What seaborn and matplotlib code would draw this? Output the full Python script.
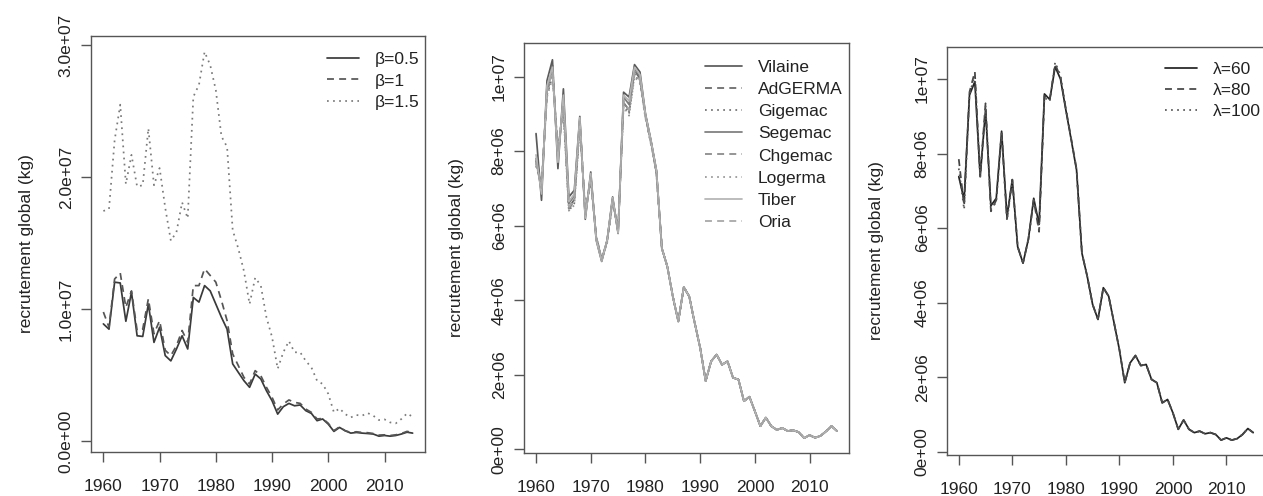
import matplotlib
matplotlib.use("Agg")
import matplotlib.pyplot as plt
import seaborn as sns
import numpy as np
import pandas as pd

# ---------------- data (values in millions of kg) ----------------
years = list(range(1960, 2016))
xticks = [1960, 1970, 1980, 1990, 2000, 2010]

# Panel 1 : beta
beta_labels = ["\u03b2=0.5", "\u03b2=1", "\u03b2=1.5"]
beta_05 = [8.9, 8.5, 12.06, 12.0, 9.1, 11.3, 8.0, 7.95, 10.4, 7.5,
           8.65, 6.5, 6.1, 7.0, 8.0, 7.0, 10.9, 10.55, 11.8, 11.4,
           10.4, 9.4, 8.5, 5.87, 5.23, 4.6, 4.1, 5.1, 4.73, 3.84,
           3.08, 2.07, 2.63, 2.88, 2.7, 2.76, 2.33, 2.12, 1.57, 1.7,
           1.31, 0.76, 1.06, 0.81, 0.63, 0.68, 0.63, 0.6, 0.56, 0.4,
           0.45, 0.4, 0.45, 0.56, 0.7, 0.63]
beta_1 = [9.8, 8.65, 12.3, 12.75, 10.15, 11.4, 8.4, 8.5, 10.8, 8.15,
          9.15, 6.9, 6.5, 7.25, 8.4, 7.5, 11.8, 11.8, 13.07, 12.57,
          12.06, 10.67, 9.15, 6.62, 5.74, 4.85, 4.35, 5.36, 4.98, 4.1,
          3.34, 2.38, 2.83, 3.14, 2.96, 2.88, 2.45, 2.2, 1.7, 1.74,
          1.37, 0.81, 1.11, 0.81, 0.68, 0.73, 0.68, 0.66, 0.6, 0.48,
          0.5, 0.45, 0.5, 0.6, 0.76, 0.68]
beta_15 = [17.45, 17.6, 22.8, 25.5, 19.5, 21.7, 19.3, 19.4, 23.7, 19.4,
           20.7, 17.7, 15.2, 15.85, 18.1, 16.9, 26.1, 27.0, 29.5, 28.5,
           26.6, 23.1, 22.3, 16.0, 14.6, 12.9, 10.4, 12.4, 11.8, 9.4,
           7.9, 5.5, 6.75, 7.6, 6.75, 6.75, 6.1, 5.6, 4.6, 4.35,
           3.6, 2.2, 2.5, 2.07, 1.82, 2.0, 1.95, 2.15, 1.95, 1.62,
           1.67, 1.44, 1.37, 1.7, 2.12, 1.87]

# Panel 2 : sites (1960-1982 differ, 1983-2015 read as one common curve)
site_labels = ["Vilaine", "AdGERMA", "Gigemac", "Segemac", "Chgemac", "Logerma", "Tiber", "Oria"]
vilaine_head = [8.47, 6.68, 9.89, 10.45, 7.53, 9.67, 6.77, 6.95, 8.93, 6.17, 7.44, 5.61, 5.04,
                5.61, 6.77, 5.79, 9.58, 9.45, 10.32, 10.12, 9.0, 8.29, 7.49]
adgerma_head = [7.75, 7.0, 9.6, 10.3, 7.9, 9.3, 6.5, 6.7, 8.8, 6.3, 7.3, 5.7, 5.1,
                5.6, 6.7, 5.85, 9.3, 9.1, 10.15, 9.95, 8.95, 8.25, 7.45]
gigemac_head = [7.6, 7.1, 9.5, 10.0, 8.1, 9.1, 6.4, 6.6, 8.7, 6.4, 7.2, 5.7, 5.1,
                5.55, 6.65, 5.9, 9.25, 9.0, 10.05, 9.85, 8.9, 8.2, 7.4]
segemac_head = [7.8, 6.9, 9.7, 10.2, 7.8, 9.4, 6.6, 6.8, 8.85, 6.25, 7.35, 5.65, 5.07,
                5.6, 6.72, 5.82, 9.45, 9.25, 10.2, 10.0, 8.97, 8.27, 7.47]
chgemac_head = [7.7, 7.05, 9.55, 10.1, 8.0, 9.2, 6.45, 6.65, 8.75, 6.35, 7.25, 5.7, 5.1,
                5.58, 6.7, 5.88, 9.3, 9.05, 10.1, 9.9, 8.92, 8.22, 7.42]
logerma_head = [7.65, 7.1, 9.45, 9.95, 8.15, 9.05, 6.4, 6.55, 8.65, 6.45, 7.2, 5.72, 5.12,
                5.55, 6.62, 5.92, 9.2, 8.95, 10.0, 9.8, 8.88, 8.18, 7.38]
tiber_head = [7.9, 6.85, 9.75, 10.25, 7.7, 9.5, 6.65, 6.85, 8.9, 6.2, 7.4, 5.62, 5.05,
              5.62, 6.75, 5.8, 9.5, 9.35, 10.25, 10.05, 8.98, 8.28, 7.48]
oria_head = [7.7, 7.0, 9.6, 10.15, 7.95, 9.25, 6.5, 6.7, 8.8, 6.3, 7.3, 5.68, 5.08,
             5.6, 6.7, 5.85, 9.35, 9.1, 10.1, 9.9, 8.93, 8.23, 7.43]
sites_tail = [5.39, 4.9, 4.1, 3.43, 4.35, 4.1, 3.39, 2.72, 1.83, 2.36, 2.54, 2.27, 2.36,
              1.92, 1.87, 1.29, 1.41, 1.02, 0.62, 0.85, 0.62, 0.52, 0.57, 0.49, 0.51,
              0.46, 0.30, 0.38, 0.31, 0.36, 0.48, 0.62, 0.49]

# Panel 3 : lambda
lambda_labels = ["\u03bb=60", "\u03bb=80", "\u03bb=100"]
lam60_head = [7.38, 6.76, 9.57, 9.93, 7.38, 9.17, 6.6, 6.8, 8.6, 6.3, 7.3, 5.5, 5.06,
              5.7, 6.8, 6.1, 9.6, 9.45, 10.33, 10.0, 9.17, 8.37, 7.56]
lam80_head = [7.85, 6.6, 9.65, 10.2, 7.4, 9.35, 6.45, 6.75, 8.55, 6.25, 7.3, 5.5, 5.06,
              5.7, 6.75, 5.9, 9.55, 9.45, 10.4, 10.05, 9.2, 8.4, 7.58]
lam100_head = [7.6, 6.5, 9.6, 10.1, 7.35, 9.3, 6.5, 6.7, 8.55, 6.2, 7.25, 5.5, 5.06,
               5.7, 6.75, 5.95, 9.5, 9.4, 10.45, 10.1, 9.2, 8.4, 7.58]
lambda_tail = [5.33, 4.7, 3.95, 3.55, 4.4, 4.17, 3.46, 2.74, 1.85, 2.38, 2.58, 2.31, 2.34,
               1.94, 1.85, 1.31, 1.4, 1.04, 0.6, 0.85, 0.6, 0.51, 0.55, 0.48, 0.51,
               0.46, 0.31, 0.37, 0.31, 0.35, 0.46, 0.62, 0.51]

p1_yticks = [0, 1e7, 2e7, 3e7]
p1_yticklabels = ["0.0e+00", "1.0e+07", "2.0e+07", "3.0e+07"]
p23_yticks = [0, 2e6, 4e6, 6e6, 8e6, 1e7]
p23_yticklabels = ["0e+00", "2e+06", "4e+06", "6e+06", "8e+06", "1e+07"]
ylabel = "recrutement global (kg)"

# ---------------- styling ----------------
sns.set_theme(style="white")
plt.rcParams["font.family"] = ["Liberation Sans", "DejaVu Sans"]
plt.rcParams["axes.unicode_minus"] = False

W, H = 1263, 496
fig = plt.figure(figsize=(W / 100, H / 100), dpi=100)
fig.patch.set_facecolor("white")

SOLID = "-"
DASH = (0, (4, 3))
DOT = (0, (1, 2.5))
TXT = "#222222"
SPINE = "#555555"
FS = 12.5


def add_ax(l, r, t, b):
    return fig.add_axes([l / W, 1 - b / H, (r - l) / W, (b - t) / H])


def draw(ax, series, labels, colors, styles):
    frames = []
    for vals, lab in zip(series, labels):
        frames.append(pd.DataFrame({"year": years, "value": np.array(vals) * 1e6, "serie": lab}))
    df = pd.concat(frames, ignore_index=True)
    for lab, col, ls in zip(labels, colors, styles):
        sub = df[df["serie"] == lab]
        sns.lineplot(data=sub, x="year", y="value", ax=ax, color=col, linestyle=ls,
                     linewidth=1.25, label=lab, sort=False, errorbar=None)


def style_ax(ax, yticks, yticklabels, ylim, ylab_x_px, left_px):
    ax.set_xlim(1957.8, 2017.2)
    ax.set_ylim(*ylim)
    ax.set_xticks(xticks)
    ax.set_xticklabels([str(x) for x in xticks])
    ax.set_yticks(yticks)
    ax.set_yticklabels(yticklabels)
    ax.tick_params(axis="both", which="major", direction="out", length=7.5, width=1,
                   color=SPINE, labelsize=FS, labelcolor=TXT,
                   bottom=True, left=True, top=False, right=False)
    ax.tick_params(axis="x", pad=12)
    ax.tick_params(axis="y", pad=5)
    for t in ax.get_yticklabels():
        t.set_rotation(90)
        t.set_rotation_mode("default")
        t.set_horizontalalignment("right")
        t.set_verticalalignment("center")
    for s in ax.spines.values():
        s.set_visible(True)
        s.set_color(SPINE)
        s.set_linewidth(1.0)
    ax.set_xlabel("")
    ax.set_ylabel(ylabel, fontsize=FS, color=TXT)
    bb = ax.get_position()
    ax.yaxis.set_label_coords((ylab_x_px - left_px) / (bb.width * W), 0.5)
    ax.grid(False)
    ax.set_facecolor("white")


def legend(ax, labels_x_px, top_px, handlelen, spacing):
    leg = ax.legend(loc="upper left", bbox_to_anchor=(labels_x_px / W, 1 - top_px / H),
                    bbox_transform=fig.transFigure, frameon=False, fontsize=FS,
                    borderpad=0, borderaxespad=0, handlelength=handlelen,
                    handletextpad=0.9, labelspacing=spacing)
    for t in leg.get_texts():
        t.set_color(TXT)


# Panel 1
ax1 = add_ax(91, 425, 36, 452)
draw(ax1, [beta_05, beta_1, beta_15], beta_labels,
     ["#3a3a3a", "#555555", "#7a7a7a"], [SOLID, DASH, DOT])
style_ax(ax1, p1_yticks, p1_yticklabels, (-0.08e7, 3.07e7), 34, 91)
legend(ax1, 327, 52, 1.85, 0.36)

# Panel 2
ax2 = add_ax(524, 849, 43, 453)
site_series = [vilaine_head + sites_tail, adgerma_head + sites_tail, gigemac_head + sites_tail,
               segemac_head + sites_tail, chgemac_head + sites_tail, logerma_head + sites_tail,
               tiber_head + sites_tail, oria_head + sites_tail]
draw(ax2, site_series, site_labels,
     ["#5a5a5a", "#666666", "#707070", "#7c7c7c", "#888888", "#969696", "#b4b4b4", "#a4a4a4"],
     [SOLID, DASH, DOT, SOLID, DASH, DOT, SOLID, DASH])
style_ax(ax2, p23_yticks, p23_yticklabels, (-0.1e6, 10.9e6), 464, 524)
legend(ax2, 705, 60, 2.15, 0.40)

# Panel 3
ax3 = add_ax(947, 1265, 47, 455)
draw(ax3, [lam60_head + lambda_tail, lam80_head + lambda_tail, lam100_head + lambda_tail],
     lambda_labels, ["#222222", "#444444", "#555555"], [SOLID, DASH, DOT])
style_ax(ax3, p23_yticks, p23_yticklabels, (-0.09e6, 10.86e6), 884, 947)
legend(ax3, 1165, 62, 1.85, 0.33)

fig.savefig("out.png", dpi=100, facecolor="white")
